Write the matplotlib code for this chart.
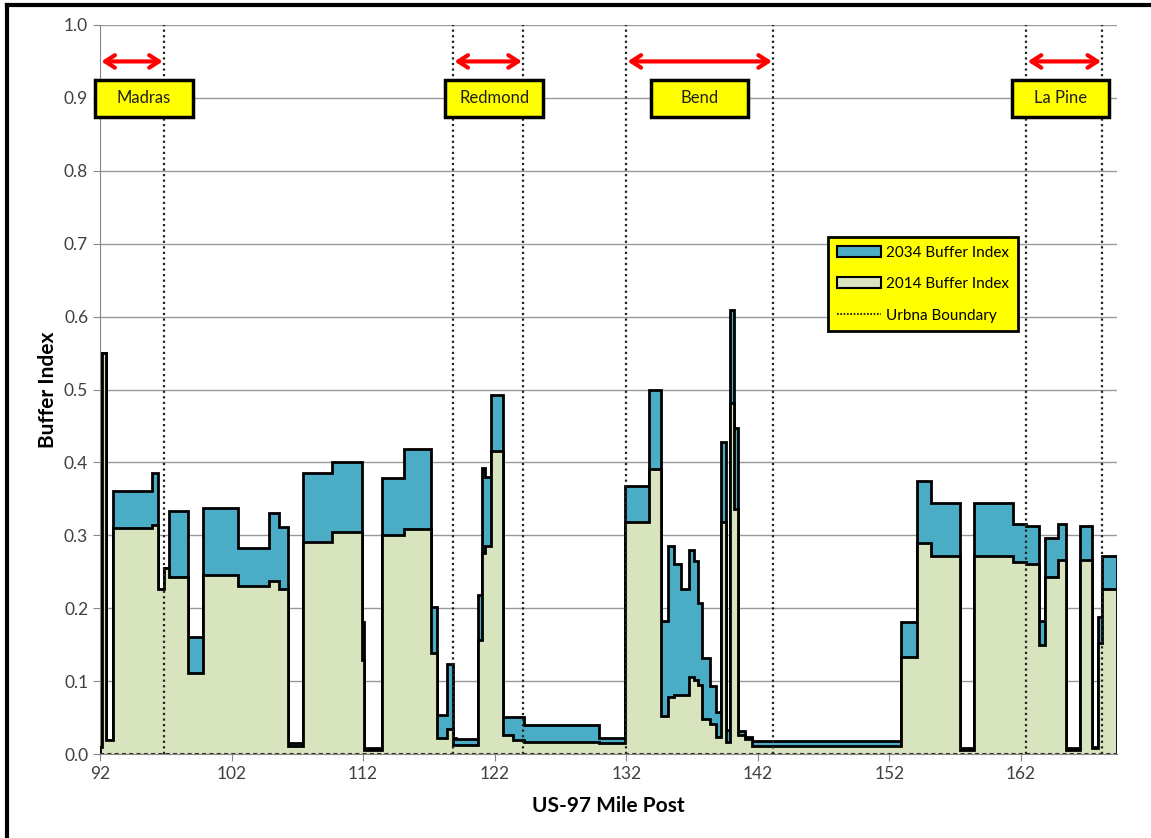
import numpy as np
import matplotlib
matplotlib.use("Agg")
import matplotlib.pyplot as plt
from matplotlib.patches import Patch, Rectangle
from matplotlib.lines import Line2D

plt.rcParams['font.family'] = ['Lato', 'DejaVu Sans']

# segment start mile posts (last entry is the end of the final segment)
mile_edges = [92.00, 92.17, 92.43, 93.00, 95.97, 96.43, 96.87, 97.25, 98.67, 99.85,
              102.50, 104.87, 105.63, 106.27, 107.41, 109.66, 111.90, 112.07, 113.42, 115.07,
              117.15, 117.62, 118.41, 118.82, 119.07, 120.77, 121.02, 121.27, 121.70, 122.67,
              123.42, 124.20, 129.96, 131.90, 133.70, 134.66, 135.14, 135.60, 136.16, 136.74,
              137.12, 137.45, 137.76, 138.40, 138.86, 139.24, 139.62, 139.92, 140.17, 140.48,
              141.00, 141.57, 152.88, 154.14, 155.19, 157.34, 158.46, 161.40, 162.42, 163.40,
              163.86, 164.80, 165.46, 166.52, 167.41, 167.83, 168.17, 169.31]

buffer_2034 = [0.010, 0.550, 0.019, 0.361, 0.385, 0.227, 0.255, 0.334, 0.160, 0.338,
               0.283, 0.331, 0.311, 0.015, 0.386, 0.400, 0.181, 0.008, 0.379, 0.418,
               0.202, 0.054, 0.124, 0.022, 0.020, 0.218, 0.392, 0.380, 0.492, 0.051,
               0.051, 0.040, 0.022, 0.368, 0.499, 0.182, 0.286, 0.261, 0.227, 0.280,
               0.265, 0.207, 0.132, 0.093, 0.057, 0.428, 0.033, 0.609, 0.447, 0.031,
               0.024, 0.018, 0.181, 0.375, 0.344, 0.008, 0.344, 0.316, 0.313, 0.183,
               0.296, 0.316, 0.008, 0.313, 0.010, 0.188, 0.272]

buffer_2014 = [0.010, 0.550, 0.019, 0.310, 0.314, 0.227, 0.255, 0.243, 0.111, 0.246,
               0.230, 0.237, 0.227, 0.011, 0.291, 0.305, 0.129, 0.006, 0.301, 0.309,
               0.139, 0.022, 0.035, 0.012, 0.013, 0.157, 0.276, 0.285, 0.415, 0.026,
               0.019, 0.016, 0.015, 0.318, 0.391, 0.052, 0.078, 0.081, 0.081, 0.105,
               0.101, 0.095, 0.048, 0.041, 0.024, 0.318, 0.017, 0.482, 0.336, 0.026,
               0.020, 0.011, 0.133, 0.290, 0.272, 0.006, 0.272, 0.264, 0.261, 0.149,
               0.243, 0.266, 0.006, 0.266, 0.008, 0.152, 0.226]

# urban boundaries and city labels
boundaries = [96.87, 118.84, 124.17, 132.0, 143.18, 162.42, 168.2]
cities = ['Madras', 'Redmond', 'Bend', 'La Pine']
city_start = [92.0, 118.84, 132.0, 162.42]
city_end = [96.87, 124.17, 143.18, 168.2]
label_x = [95.35, 121.96, 137.55, 165.0]

blue = '#4BACC6'
green = '#D7E4BD'

fig = plt.figure(figsize=(11.51, 8.38), dpi=100)
ax = fig.add_axes([0.0869, 0.1002, 0.8836, 0.87])

ax.stairs(buffer_2034, mile_edges, fill=True, baseline=0, facecolor=blue,
          edgecolor='black', linewidth=2, zorder=2)
ax.stairs(buffer_2014, mile_edges, fill=True, baseline=0, facecolor=green,
          edgecolor='black', linewidth=2, zorder=3)

for b in boundaries:
    ax.axvline(b, ymin=0, ymax=1, color='#222222', linestyle=(0, (1, 1.5)), linewidth=1.6, zorder=4)
ax.axhline(0, color='#333333', linestyle=(0, (2, 1.5)), linewidth=1.5, zorder=5)

# city arrows and label boxes
for name, s, e, lx in zip(cities, city_start, city_end, label_x):
    ax.annotate('', xy=(s + 0.1, 0.95), xytext=(e - 0.1, 0.95),
                arrowprops=dict(arrowstyle='<->,head_length=0.7,head_width=0.45',
                                color='red', lw=3, shrinkA=0, shrinkB=0), zorder=6)
    ax.add_patch(Rectangle((lx - 3.7, 0.874), 7.4, 0.051, facecolor='yellow',
                           edgecolor='black', linewidth=2.5, clip_on=False, zorder=6))
    ax.text(lx, 0.8995, name, ha='center', va='center', fontsize=12, color='#202020', zorder=7)

ax.set_xlim(92, 169.31)
ax.set_ylim(0, 1.0)
ax.set_xticks(np.arange(92, 163, 10))
ax.set_yticks(np.arange(0, 1.01, 0.1))
ax.yaxis.set_major_formatter(matplotlib.ticker.FormatStrFormatter('%.1f'))
ax.tick_params(axis='both', direction='out', length=5, color='#888888',
               labelsize=12.5, labelcolor='#404040')
ax.grid(axis='y', color='#999999', linewidth=1)
ax.set_axisbelow(True)
for side in ['top', 'right']:
    ax.spines[side].set_visible(False)
ax.spines['left'].set_color('#888888')
ax.spines['bottom'].set_color('#888888')

ax.set_xlabel('US-97 Mile Post', fontsize=15, fontweight='bold', labelpad=10)
ax.set_ylabel('Buffer Index', fontsize=15, fontweight='bold', labelpad=4)

handles = [Patch(facecolor=blue, edgecolor='black', linewidth=1.5),
           Patch(facecolor=green, edgecolor='black', linewidth=1.5),
           Line2D([0], [0], color='black', linestyle=(0, (1, 1)), linewidth=1.2)]
labels = ['2034 Buffer Index', '2014 Buffer Index', 'Urbna Boundary']
leg = ax.legend(handles, labels, loc='upper left', bbox_to_anchor=(0.716, 0.709),
                borderaxespad=0, fontsize=11, frameon=True, fancybox=False, framealpha=1,
                facecolor='yellow', edgecolor='black', handlelength=2.9, handletextpad=0.35,
                labelspacing=1.15, borderpad=0.55)
leg.get_frame().set_linewidth(2)
leg.set_zorder(8)

# outer frame of the original figure
fig.add_artist(Line2D([0.0065, 0.0065], [0, 0.994], color='black', linewidth=3))
fig.add_artist(Line2D([0.0065, 1], [0.994, 0.994], color='black', linewidth=3))

fig.savefig('out.png', dpi=100)
